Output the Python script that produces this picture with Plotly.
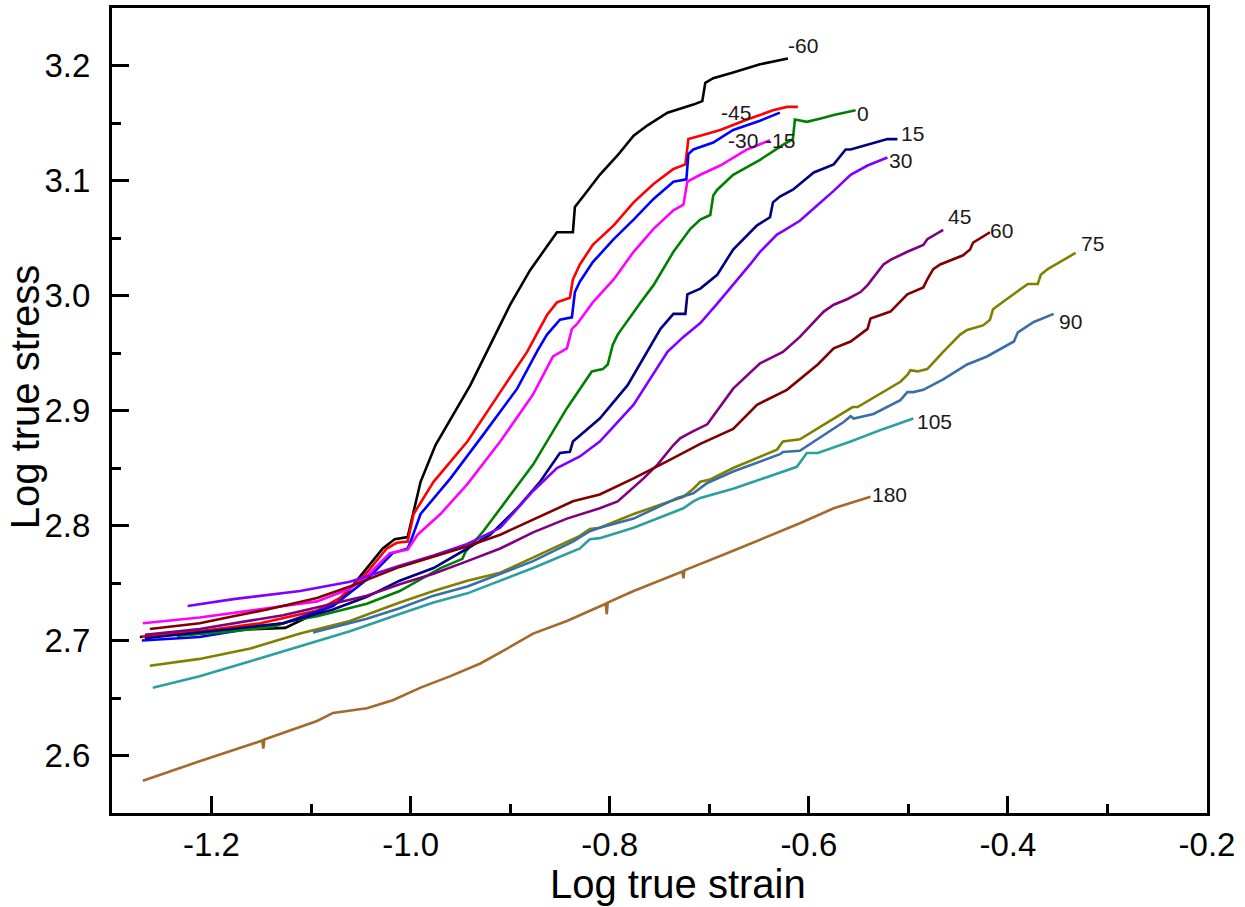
import plotly.graph_objects as go

# ---------------- data (log true strain, log true stress) ----------------
names = ["-60", "-45", "-30", "-15", "0", "15", "30", "45", "60", "75", "90", "105", "180"]

x_m60 = [-1.272, -1.212, -1.126, -1.071, -1.028, -1.016, -1.003, -0.999, -0.990, -0.975, -0.955, -0.940,
         -0.920, -0.900, -0.880, -0.853, -0.837, -0.835, -0.825, -0.810, -0.792, -0.776, -0.762, -0.742,
         -0.716, -0.707, -0.704, -0.696, -0.676, -0.649, -0.621]
y_m60 = [2.703, 2.708, 2.711, 2.734, 2.780, 2.788, 2.790, 2.804, 2.838, 2.870, 2.899, 2.922,
         2.957, 2.992, 3.022, 3.055, 3.055, 3.077, 3.088, 3.105, 3.122, 3.139, 3.148, 3.159,
         3.166, 3.169, 3.185, 3.189, 3.194, 3.201, 3.206]

x_m45 = [-1.270, -1.212, -1.151, -1.094, -1.071, -1.044, -1.024, -1.014, -1.003, -1.000, -0.997, -0.977,
         -0.943, -0.910, -0.883, -0.863, -0.853, -0.840, -0.837, -0.830, -0.817, -0.796, -0.776, -0.756,
         -0.736, -0.724, -0.721, -0.709, -0.689, -0.662, -0.636, -0.622, -0.611]
y_m45 = [2.703, 2.708, 2.715, 2.726, 2.737, 2.759, 2.780, 2.785, 2.786, 2.797, 2.810, 2.838,
         2.873, 2.916, 2.951, 2.983, 2.994, 2.998, 3.014, 3.027, 3.044, 3.061, 3.081, 3.097,
         3.110, 3.114, 3.136, 3.139, 3.144, 3.153, 3.161, 3.164, 3.164]

x_m30 = [-1.270, -1.212, -1.128, -1.078, -1.044, -1.018, -1.003, -1.000, -0.990, -0.960, -0.927, -0.893,
         -0.872, -0.863, -0.850, -0.838, -0.835, -0.830, -0.817, -0.796, -0.776, -0.756, -0.736, -0.723,
         -0.721, -0.716, -0.696, -0.676, -0.649, -0.629]
y_m30 = [2.700, 2.703, 2.715, 2.730, 2.753, 2.776, 2.780, 2.786, 2.810, 2.841, 2.879, 2.919,
         2.953, 2.966, 2.979, 2.981, 3.003, 3.012, 3.029, 3.049, 3.066, 3.084, 3.099, 3.101,
         3.123, 3.127, 3.133, 3.144, 3.152, 3.159]

x_m15 = [-1.269, -1.212, -1.144, -1.094, -1.061, -1.044, -1.021, -1.011, -1.003, -0.993, -0.970, -0.943,
         -0.910, -0.877, -0.857, -0.843, -0.838, -0.833, -0.817, -0.796, -0.776, -0.756, -0.736, -0.726,
         -0.722, -0.709, -0.689, -0.662, -0.639]
y_m15 = [2.715, 2.720, 2.728, 2.734, 2.745, 2.756, 2.776, 2.778, 2.779, 2.792, 2.810, 2.836,
         2.873, 2.914, 2.947, 2.954, 2.971, 2.975, 2.994, 3.014, 3.038, 3.058, 3.074, 3.079,
         3.099, 3.105, 3.113, 3.127, 3.135]

x_0 = [-1.235, -1.178, -1.138, -1.121, -1.094, -1.044, -1.011, -0.993, -0.970, -0.948, -0.945, -0.927,
       -0.910, -0.877, -0.843, -0.818, -0.807, -0.802, -0.797, -0.792, -0.769, -0.756, -0.736, -0.719,
       -0.709, -0.699, -0.696, -0.692, -0.676, -0.649, -0.626, -0.616, -0.614, -0.602, -0.588, -0.575, -0.553]
y_0 = [2.704, 2.708, 2.712, 2.717, 2.721, 2.732, 2.743, 2.752, 2.763, 2.771, 2.777, 2.795,
       2.815, 2.853, 2.902, 2.934, 2.936, 2.940, 2.957, 2.966, 2.994, 3.009, 3.038, 3.058,
       3.066, 3.070, 3.087, 3.092, 3.105, 3.118, 3.131, 3.136, 3.153, 3.151, 3.154, 3.157, 3.161]

x_15 = [-1.267, -1.212, -1.128, -1.078, -1.044, -1.011, -0.977, -0.943, -0.920, -0.893, -0.870, -0.850,
        -0.840, -0.837, -0.810, -0.782, -0.759, -0.749, -0.736, -0.724, -0.722, -0.709, -0.692, -0.676,
        -0.652, -0.639, -0.636, -0.629, -0.616, -0.595, -0.575, -0.563, -0.558, -0.541, -0.521, -0.511]
y_15 = [2.702, 2.707, 2.715, 2.727, 2.738, 2.752, 2.763, 2.780, 2.792, 2.815, 2.838, 2.863,
        2.864, 2.873, 2.893, 2.922, 2.957, 2.971, 2.984, 2.984, 3.001, 3.006, 3.018, 3.040,
        3.061, 3.068, 3.081, 3.086, 3.092, 3.107, 3.114, 3.127, 3.127, 3.131, 3.136, 3.136]

x_30 = [-1.224, -1.178, -1.111, -1.061, -1.011, -0.977, -0.943, -0.910, -0.877, -0.853, -0.830, -0.810,
        -0.776, -0.759, -0.742, -0.726, -0.709, -0.692, -0.676, -0.659, -0.649, -0.632, -0.626, -0.609,
        -0.592, -0.575, -0.558, -0.541, -0.521]
y_30 = [2.730, 2.736, 2.743, 2.751, 2.765, 2.774, 2.784, 2.798, 2.830, 2.850, 2.860, 2.873,
        2.905, 2.928, 2.951, 2.964, 2.976, 2.993, 3.009, 3.027, 3.038, 3.053, 3.056, 3.065,
        3.078, 3.091, 3.105, 3.113, 3.120]

x_45 = [-1.267, -1.212, -1.128, -1.078, -1.044, -1.011, -0.977, -0.943, -0.910, -0.877, -0.843, -0.810,
        -0.792, -0.766, -0.752, -0.736, -0.729, -0.716, -0.702, -0.676, -0.649, -0.642, -0.626, -0.609,
        -0.585, -0.575, -0.561, -0.548, -0.541, -0.525, -0.518, -0.501, -0.485, -0.481, -0.465]
y_45 = [2.705, 2.710, 2.722, 2.732, 2.739, 2.749, 2.758, 2.769, 2.780, 2.794, 2.806, 2.815,
        2.821, 2.841, 2.853, 2.870, 2.876, 2.882, 2.888, 2.919, 2.941, 2.944, 2.951, 2.964,
        2.986, 2.992, 2.997, 3.003, 3.009, 3.027, 3.031, 3.038, 3.044, 3.049, 3.057]

x_60 = [-1.262, -1.212, -1.178, -1.144, -1.094, -1.061, -1.011, -0.977, -0.943, -0.910, -0.877, -0.843,
        -0.837, -0.810, -0.776, -0.742, -0.709, -0.676, -0.652, -0.622, -0.591, -0.575, -0.558, -0.541,
        -0.538, -0.518, -0.501, -0.485, -0.481, -0.475, -0.468, -0.445, -0.438, -0.435, -0.418]
y_60 = [2.710, 2.715, 2.721, 2.727, 2.737, 2.747, 2.764, 2.773, 2.782, 2.792, 2.805, 2.818,
        2.821, 2.827, 2.841, 2.856, 2.871, 2.884, 2.905, 2.918, 2.940, 2.954, 2.960, 2.971,
        2.980, 2.986, 3.001, 3.007, 3.014, 3.023, 3.027, 3.035, 3.040, 3.046, 3.055]

x_75 = [-1.262, -1.212, -1.161, -1.111, -1.061, -1.011, -0.977, -0.943, -0.910, -0.877, -0.830, -0.820,
        -0.810, -0.776, -0.726, -0.716, -0.709, -0.699, -0.676, -0.632, -0.626, -0.609, -0.575, -0.556,
        -0.551, -0.541, -0.508, -0.501, -0.498, -0.491, -0.481, -0.465, -0.448, -0.441, -0.425, -0.418,
        -0.415, -0.401, -0.380, -0.370, -0.367, -0.360, -0.332]
y_75 = [2.678, 2.684, 2.693, 2.706, 2.717, 2.733, 2.743, 2.752, 2.759, 2.772, 2.791, 2.797,
        2.798, 2.810, 2.825, 2.832, 2.838, 2.840, 2.850, 2.866, 2.873, 2.875, 2.893, 2.903,
        2.903, 2.908, 2.925, 2.931, 2.935, 2.934, 2.936, 2.951, 2.966, 2.970, 2.974, 2.979,
        2.988, 2.997, 3.010, 3.010, 3.018, 3.023, 3.037]

x_90 = [-1.098, -1.044, -1.011, -0.977, -0.943, -0.910, -0.877, -0.837, -0.820, -0.810, -0.776, -0.732,
        -0.716, -0.702, -0.676, -0.629, -0.626, -0.609, -0.565, -0.558, -0.555, -0.535, -0.508, -0.501,
        -0.495, -0.485, -0.465, -0.441, -0.421, -0.394, -0.390, -0.374, -0.354]
y_90 = [2.707, 2.719, 2.728, 2.739, 2.747, 2.758, 2.769, 2.786, 2.795, 2.798, 2.806, 2.824,
        2.828, 2.837, 2.847, 2.862, 2.864, 2.865, 2.890, 2.895, 2.893, 2.897, 2.909, 2.916,
        2.916, 2.918, 2.927, 2.940, 2.947, 2.960, 2.968, 2.977, 2.984]

x_105 = [-1.259, -1.212, -1.161, -1.111, -1.061, -1.011, -0.977, -0.943, -0.910, -0.877, -0.830, -0.820,
         -0.810, -0.776, -0.726, -0.716, -0.709, -0.676, -0.612, -0.606, -0.602, -0.591, -0.558, -0.525, -0.495]
y_105 = [2.659, 2.669, 2.682, 2.695, 2.708, 2.723, 2.733, 2.741, 2.752, 2.763, 2.780, 2.788,
         2.789, 2.798, 2.815, 2.821, 2.824, 2.832, 2.851, 2.858, 2.863, 2.863, 2.873, 2.884, 2.893]

x_180 = [-1.269, -1.212, -1.149, -1.148, -1.147, -1.094, -1.078, -1.044, -1.018, -0.990, -0.960, -0.930,
         -0.903, -0.877, -0.843, -0.804, -0.803, -0.802, -0.776, -0.727, -0.726, -0.725, -0.676, -0.609,
         -0.575, -0.538]
y_180 = [2.578, 2.595, 2.613, 2.606, 2.614, 2.630, 2.637, 2.641, 2.648, 2.659, 2.669, 2.680,
         2.693, 2.706, 2.717, 2.732, 2.723, 2.733, 2.743, 2.760, 2.754, 2.761, 2.778, 2.802,
         2.815, 2.825]

xs = [x_m60, x_m45, x_m30, x_m15, x_0, x_15, x_30, x_45, x_60, x_75, x_90, x_105, x_180]
ys = [y_m60, y_m45, y_m30, y_m15, y_0, y_15, y_30, y_45, y_60, y_75, y_90, y_105, y_180]

x_tickvals = [-1.2, -1.0, -0.8, -0.6, -0.4, -0.2]
x_ticktext = ["-1.2", "-1.0", "-0.8", "-0.6", "-0.4", "-0.2"]
y_tickvals = [2.6, 2.7, 2.8, 2.9, 3.0, 3.1, 3.2]
y_ticktext = ["2.6", "2.7", "2.8", "2.9", "3.0", "3.1", "3.2"]

# ---------------- styles ----------------
colors = ["#000000", "#FF0000", "#0000FF", "#FF00FF", "#008000", "#000080", "#8000FF",
          "#800080", "#800000", "#808000", "#3A6EA8", "#2AA0A0", "#A3692D"]
# label offset (pixels) from the last point of each curve
label_shift = [(15, 13), (-62, -6), (-37, -28), (10, 0), (7, -3), (15, 6), (13, -3),
               (16, 13), (12, 2), (17, 9), (17, -8), (21, -3), (19, 2)]

fig = go.Figure()
for name, x, y, c in zip(names, xs, ys, colors):
    fig.add_trace(go.Scatter(x=x, y=y, mode="lines", name=name,
                             line=dict(color=c, width=2.6), showlegend=False))

for name, x, y, (dx, dy) in zip(names, xs, ys, label_shift):
    fig.add_annotation(x=x[-1], y=y[-1], xref="x", yref="y", text=name, showarrow=False,
                       xanchor="center", yanchor="middle", xshift=dx, yshift=dy,
                       font=dict(family="Arial, Liberation Sans, sans-serif", size=21, color="#1a1a1a"))

axis_common = dict(showline=True, linecolor="black", linewidth=3, mirror=True,
                   ticks="inside", ticklen=17, tickwidth=2.5, tickcolor="black",
                   showgrid=False, zeroline=False,
                   tickfont=dict(family="Arial, Liberation Sans, sans-serif", size=33, color="black"))

fig.update_xaxes(range=[-1.3, -0.2], tickmode="array", tickvals=x_tickvals, ticktext=x_ticktext,
                 minor=dict(ticks="inside", ticklen=9, tickwidth=2.5, tickcolor="black", dtick=0.1, tick0=-1.3),
                 ticklabelstandoff=0, **axis_common)
fig.update_yaxes(range=[2.55, 3.25], tickmode="array", tickvals=y_tickvals, ticktext=y_ticktext,
                 minor=dict(ticks="inside", ticklen=9, tickwidth=2.5, tickcolor="black", dtick=0.05, tick0=2.55),
                 ticklabelstandoff=12, **axis_common)

title_font = dict(family="Arial, Liberation Sans, sans-serif", size=40, color="black")
fig.add_annotation(text="Log true strain", xref="paper", yref="paper", x=0.517, y=-0.088,
                   xanchor="center", yanchor="middle", showarrow=False, font=title_font)
fig.add_annotation(text="Log true stress", xref="paper", yref="paper", x=-0.080, y=0.517,
                   xanchor="center", yanchor="middle", showarrow=False, textangle=-90, font=title_font)

fig.update_layout(width=1245, height=907, margin=dict(l=112, r=38, t=5, b=94),
                  paper_bgcolor="white", plot_bgcolor="white")

fig.write_html("out.html")
